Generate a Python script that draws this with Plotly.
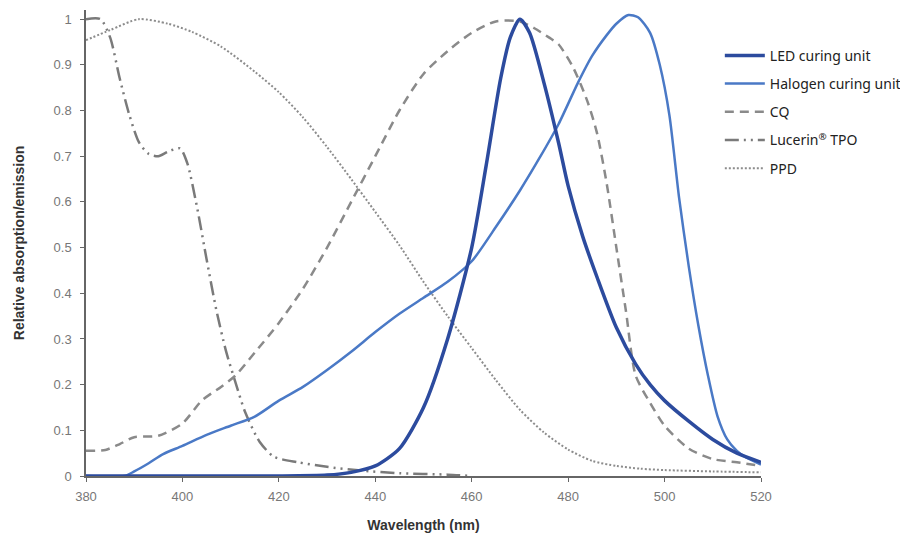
import plotly.graph_objects as go

# ---------------- data ----------------
led_x = [380, 400, 420, 430, 435, 440, 445, 450, 455, 460, 463, 466, 468, 470, 472, 475, 478, 480, 483, 486, 490, 494, 497, 500, 505, 510, 515, 520]
led_y = [0, 0, 0, 0.002, 0.008, 0.022, 0.06, 0.15, 0.3, 0.5, 0.68, 0.87, 0.96, 1.0, 0.97, 0.86, 0.73, 0.635, 0.525, 0.435, 0.325, 0.245, 0.2, 0.165, 0.12, 0.08, 0.05, 0.03]

hal_x = [380, 388, 390, 393, 396, 400, 405, 410, 415, 420, 425, 430, 435, 440, 445, 450, 455, 460, 465, 470, 474, 478, 482, 485, 488, 490, 492.5, 494.5, 497, 499, 501, 503, 505, 507, 509, 511, 513, 515, 517, 520]
hal_y = [0, 0, 0.01, 0.028, 0.048, 0.066, 0.09, 0.11, 0.13, 0.165, 0.195, 0.232, 0.272, 0.315, 0.355, 0.39, 0.425, 0.47, 0.545, 0.625, 0.695, 0.77, 0.86, 0.92, 0.965, 0.99, 1.009, 1.004, 0.97, 0.9, 0.79, 0.61, 0.46, 0.33, 0.22, 0.13, 0.08, 0.055, 0.04, 0.025]

cq_x = [380, 384, 387, 390, 395, 400, 404, 408, 411, 415, 420, 425, 430, 435, 440, 445, 450, 455, 460, 465, 470, 473, 476, 478, 481, 484, 486, 488, 490, 492, 494, 497, 500, 505, 510, 515, 520]
cq_y = [0.055, 0.057, 0.07, 0.085, 0.088, 0.115, 0.165, 0.195, 0.22, 0.27, 0.335, 0.41, 0.5, 0.6, 0.7, 0.8, 0.88, 0.93, 0.97, 0.995, 0.995, 0.98, 0.96, 0.945, 0.895, 0.82, 0.75, 0.64, 0.5, 0.36, 0.22, 0.16, 0.11, 0.06, 0.037, 0.03, 0.022]

tpo_x = [380, 383, 385, 387, 389, 391, 393, 395, 397, 399.5, 401, 403, 405, 407, 409, 411, 413, 416, 419, 424, 430, 437, 445, 455, 460]
tpo_y = [1.0, 1.0, 0.96, 0.87, 0.79, 0.73, 0.705, 0.70, 0.71, 0.717, 0.685, 0.59, 0.475, 0.365, 0.275, 0.205, 0.14, 0.075, 0.042, 0.03, 0.02, 0.012, 0.006, 0.003, 0]

ppd_x = [380, 385, 391, 397, 402, 408, 415, 420, 425, 430, 435, 440, 445, 450, 455, 460, 465, 470, 475, 480, 485, 490, 495, 500, 510, 520]
ppd_y = [0.954, 0.976, 1.0, 0.99, 0.972, 0.94, 0.885, 0.84, 0.785, 0.72, 0.65, 0.578, 0.505, 0.425, 0.35, 0.28, 0.21, 0.145, 0.095, 0.058, 0.033, 0.022, 0.016, 0.013, 0.01, 0.008]

x_ticks = [380, 400, 420, 440, 460, 480, 500, 520]
y_ticks = [0, 0.1, 0.2, 0.3, 0.4, 0.5, 0.6, 0.7, 0.8, 0.9, 1]
y_tick_text = ["0", "0.1", "0.2", "0.3", "0.4", "0.5", "0.6", "0.7", "0.8", "0.9", "1"]

names = ["LED curing unit", "Halogen curing unit", "CQ", "Lucerin<sup>®</sup> TPO", "PPD"]

# ---------------- figure ----------------
fig = go.Figure()

def add(x, y, name, color, width, dash, rank):
    fig.add_trace(go.Scatter(
        x=x, y=y, name=name, mode="lines", legendrank=rank, legendgroup=f"g{rank}",
        line=dict(color=color, width=width, dash=dash, shape="spline", smoothing=0.7),
    ))

add(ppd_x, ppd_y, names[4], "#8c8c8c", 2, "2px,2px", 5)
add(tpo_x, tpo_y, names[3], "#7a7a7a", 2.5, "14px,5px,2px,5px,2px,5px", 4)
add(cq_x, cq_y, names[2], "#8a8a8a", 2.5, "9px,6px", 3)
add(hal_x, hal_y, names[1], "#4a79c6", 2.5, "solid", 2)
add(led_x, led_y, names[0], "#2c4b9e", 3.5, "solid", 1)

fig.update_layout(
    width=908, height=535,
    margin=dict(l=78, r=155, t=2, b=67),
    paper_bgcolor="white", plot_bgcolor="white",
    font=dict(family="Liberation Sans, Arial, sans-serif", color="#444"),
    showlegend=True,
    legend=dict(
        x=0.939, y=0.936, xanchor="left", yanchor="top",
        traceorder="grouped", tracegroupgap=7,
        font=dict(family="Noto Sans, Open Sans, sans-serif", size=14, color="#222"),
        bgcolor="rgba(0,0,0,0)", itemwidth=40,
    ),
    xaxis=dict(
        range=[380, 520], tickvals=x_ticks, showgrid=False, zeroline=False,
        showline=True, linecolor="#666", linewidth=1.5,
        ticks="outside", ticklen=4, tickcolor="#666", ticklabelstandoff=4,
        tickfont=dict(size=13, color="#777"), automargin=False,
        title=dict(text="<b>Wavelength (nm)</b>", font=dict(size=14, color="#333"), standoff=17),
    ),
    yaxis=dict(
        range=[0, 1.02], tickvals=y_ticks, ticktext=y_tick_text, showgrid=False, zeroline=False,
        showline=True, linecolor="#666", linewidth=1.5,
        ticks="outside", ticklen=4, tickcolor="#666", ticklabelstandoff=6,
        tickfont=dict(size=13, color="#777"), automargin=False,
        title=dict(text="<b>Relative absorption/emission</b>", font=dict(size=14, color="#333"), standoff=26),
    ),
)

fig.write_html("out.html")
